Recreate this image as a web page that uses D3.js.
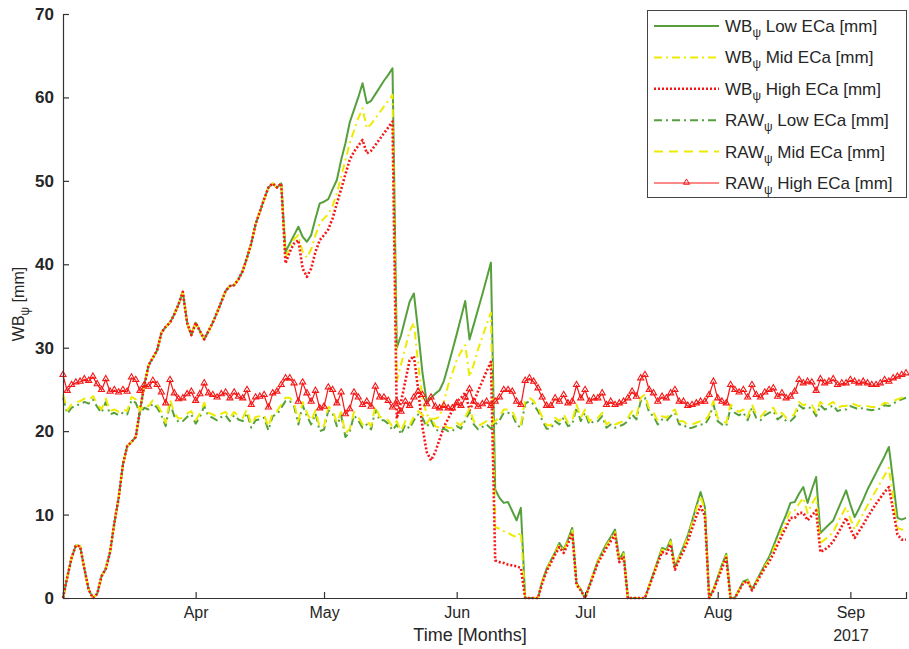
<!DOCTYPE html>
<html><head><meta charset="utf-8">
<script src="https://cdn.jsdelivr.net/npm/d3@7"></script>
<style>
body{margin:0;background:#fff;}
svg text{font-family:"Liberation Sans",Arial,Helvetica,sans-serif;fill:#262626;}
</style></head>
<body><svg id="chart" width="909" height="649"></svg>
<script>
// daily values, 1 Mar 2017 .. 14 Sep 2017
const startDate = '2017-03-01', endDate = '2017-09-14';

const wbLow = [
 0,2.5,4.8,6.3,6.2,3.5,1,0,0.5,2.6, 3.5,5.5,9,12,16,18.2,18.7,19.3,22.5,25.5,
 27.9,28.8,29.7,31.8,32.5,33,34,35.2,36.7,33, 31.5,33,32,31,32,33,34.2,35.5,36.8,37.4,
 37.5,38.2,39.2,40.8,42.5,44.8,46.3,47.8,49.2,49.7, 49.2,49.7,41.5,42.5,43.5,44.5,43.3,42.7,43.5,45.5,
 47.3,47.5,47.8,49,50.1,52.5,54.5,57,58.5,60, 61.7,59.3,59.6,60.4,61.2,62,62.7,63.5,30,31.5,
 33.5,35.5,36.5,32,27,23.5,24,24.5,24.9,26, 27.8,29.7,31.6,33.6,35.6,31,32.8,34.6,36.4,38.3,
 40.2,13,12,11.4,11.5,10.4,9.3,10.8,0,0, 0,0,2,3.5,4.5,5.5,6.6,5.8,7,8.4,
 1.8,1,0,1.5,3,4.5,5.5,6.5,7.3,8.2, 4.6,5.5,0,0,0,0,0,1.5,3,4.5,
 6,5.8,7,3.7,5,6.2,7.5,9.2,11,12.7, 10.9,0,1,2.5,4,5.3,0,0,1,2,
 2.2,1,2,3,4,4.9,6.2,7.5,8.8,10, 11.4,11.5,12.5,13.3,11.4,13,14.5,7.8,8.3,8.8,
 9.3,10.5,11.7,12.9,11.2,9.7,10.7,11.8,13,14, 15,16,17,18.1,14,9.6,9.4,9.6
];
const wbMid = [
 0,2.5,4.8,6.3,6.2,3.5,1,0,0.5,2.6, 3.5,5.5,9,12,16,18.2,18.7,19.3,22.5,25.5,
 27.9,28.8,29.7,31.8,32.5,33,34,35.2,36.7,33, 31.5,33,32,31,32,33,34.2,35.5,36.8,37.4,
 37.5,38.2,39.2,40.8,42.5,44.8,46.3,47.8,49.2,49.7, 49.2,49.7,40.8,42,43,43.5,41.5,40.8,41.8,43.5,
 44.9,45.5,46,47,48.5,50.5,52.5,54.5,56,57.5, 58.7,56.3,56.8,57.5,58.2,58.9,59.6,60.3,26,28,
 30,32,33,28,24,22,21.5,21.5,21.7,23.5, 25.5,27,28.5,29.5,30.3,26.5,28,29.8,31.3,32.8,
 34.2,8.5,8.3,8,7.8,7.5,7.3,7.9,0,0, 0,0,2,3.4,4.4,5.4,6.4,5.7,6.8,8.1,
 1.7,1,0,1.5,3,4.4,5.4,6.3,7.1,7.9, 4.5,5.3,0,0,0,0,0,1.5,3,4.4,
 5.8,5.6,6.8,3.6,4.9,6,7.3,8.9,10.6,12.2, 10.5,0,1,2.4,3.9,5.1,0,0,1,1.9,
 2.1,1,1.9,2.9,3.8,4.6,5.8,7,8.1,9.2, 10.4,10.5,11.3,12,10.2,11.3,12.1,6.6,7,7.4,
 7.9,9,10,10.9,9.5,8.2,9.2,10.1,11.1,12, 12.9,13.8,14.7,15.6,12,8.4,8.2,8.2
];
const wbHigh = [
 0,2.5,4.8,6.3,6.2,3.5,1,0,0.5,2.6, 3.5,5.5,9,12,16,18.2,18.7,19.3,22.5,25.5,
 27.9,28.8,29.7,31.8,32.5,33,34,35.2,36.7,33, 31.5,33,32,31,32,33,34.2,35.5,36.8,37.4,
 37.5,38.2,39.2,40.8,42.5,44.8,46.3,47.8,49.2,49.7, 49.2,49.7,40.1,41.5,42.5,42.9,39.5,38.5,39.5,41.5,
 42.9,43.5,44.2,45.5,47.3,49,50.8,52.5,53.5,54.2, 54.9,53.3,53.6,54.3,55,55.7,56.4,57.1,21.5,23.5,
 26,28.5,29,25,20.5,17.5,16.5,17.5,19,20.5, 21.5,22.5,23.5,24,24.6,22.5,23.5,24.8,26,27.2,
 28.3,4.5,4.3,4.2,4,3.9,3.8,3.6,0,0, 0,0,1.8,3.2,4.2,5.2,6.1,5.4,6.5,7.8,
 1.6,0.9,0,1.4,2.8,4.2,5.1,6,6.8,7.6, 4.3,5,0,0,0,0,0,1.4,2.8,4.2,
 5.5,5.3,6.4,3.4,4.6,5.6,6.8,8.3,9.8,11, 9.8,0,0.9,2.2,3.6,4.8,0,0,0.9,1.8,
 2,0.9,1.8,2.7,3.6,4.3,5.3,6.4,7.5,8.5, 9.6,9.6,10.2,10.2,9.3,9.9,10.5,5.5,5.8,6.2,
 6.8,7.7,8.6,9.6,8.3,7.2,8,8.8,9.7,10.5, 11.3,12,12.7,13.3,10.5,7.6,7,7
];
const rawLow = [
 24.0,22.1,22.8,23.1,23.2,23.5,23.3,23.8,22.9,22.2, 23.5,22.0,22.2,21.9,22.2,22.0,23.7,23.4,22.1,22.8,
 22.6,23.3,22.8,21.9,20.6,23.4,21.8,21.1,21.2,21.7, 22.0,20.9,21.7,23.0,21.8,21.6,21.3,21.7,21.9,21.2,
 21.9,21.4,21.2,22.2,20.4,21.3,21.4,21.6,20.1,21.8, 22.0,22.8,23.6,23.6,23.0,20.8,23.1,21.8,20.8,22.1,
 20.0,20.2,22.5,22.2,20.6,21.9,19.3,19.9,21.9,21.3, 20.4,20.8,20.2,22.6,21.3,21.3,20.9,20.1,20.8,19.6,
 20.8,20.3,21.3,22.0,21.6,20.5,21.3,20.2,20.0,20.3, 20.0,20.0,20.6,20.3,21.3,22.3,20.8,20.2,20.5,20.8,
 20.3,20.8,21.3,22.2,22.2,22.0,20.8,20.4,23.3,23.6, 23.2,22.4,21.3,20.3,20.3,21.2,20.8,21.6,20.6,20.8,
 22.8,21.2,22.2,20.8,21.2,21.2,21.8,20.4,20.8,20.4, 20.6,20.8,21.2,22.0,21.4,23.6,24.0,22.2,21.8,20.8,
 21.4,21.2,21.8,22.2,20.8,20.8,20.3,20.4,20.6,20.8, 20.8,21.6,23.2,21.2,20.8,20.6,22.8,22.2,21.9,22.2,
 21.3,22.8,21.6,21.3,21.9,22.2,22.4,21.4,21.8,21.2, 21.2,21.7,23.1,22.7,22.9,22.7,21.8,23.1,22.6,22.8,
 23.1,22.4,22.6,22.6,23.0,22.8,22.6,22.8,22.6,22.5, 22.6,22.7,23.1,23.0,23.3,23.6,23.8,24.0
];
const rawMid = [
 24.4,22.5,23.2,23.5,23.6,23.9,23.7,24.2,23.3,22.6, 23.9,22.4,22.6,22.3,22.6,22.4,24.1,23.8,22.5,23.2,
 23.0,23.7,23.2,22.3,21.0,23.8,22.2,21.5,21.6,22.1, 22.4,21.3,22.1,23.4,22.2,22.0,21.7,22.1,22.3,21.6,
 22.3,21.8,21.6,22.6,20.8,21.7,21.8,22.0,20.5,22.2, 22.4,23.2,24.0,24.0,23.4,21.2,23.5,22.2,21.2,22.5,
 20.4,20.6,22.9,22.6,21.0,22.3,19.7,20.3,22.3,21.7, 20.8,21.2,20.6,23.0,21.7,21.7,21.3,20.5,21.2,20.0,
 21.2,20.7,21.7,22.4,22.0,20.9,21.7,20.6,20.4,20.7, 20.4,20.4,21.0,20.7,21.7,22.7,21.2,20.6,20.9,21.2,
 20.7,21.2,21.7,22.6,22.6,22.4,21.2,20.8,23.7,24.0, 23.6,22.8,21.7,20.7,20.7,21.6,21.2,22.0,21.0,21.2,
 23.2,21.6,22.6,21.2,21.6,21.6,22.2,20.8,21.2,20.8, 21.0,21.2,21.6,22.4,21.8,24.0,24.4,22.6,22.2,21.2,
 21.8,21.6,22.2,22.6,21.2,21.2,20.7,20.8,21.0,21.2, 21.2,22.0,23.6,21.6,21.2,21.0,23.2,22.6,22.3,22.6,
 21.7,23.2,22.0,21.7,22.3,22.6,22.8,21.8,22.2,21.6, 21.6,22.1,23.5,23.1,23.3,23.1,22.2,23.5,23.0,23.2,
 23.5,22.8,23.0,23.0,23.4,23.2,23.0,23.2,23.0,22.9, 22.9,23.0,23.4,23.3,23.6,23.8,24.0,24.1
];
const rawHigh = [
 26.7,24.8,25.5,25.8,25.9,26.2,26.0,26.5,25.6,24.9, 26.2,24.7,24.9,24.6,24.9,24.7,26.4,26.1,24.8,25.5,
 25.3,26.0,25.5,24.6,23.3,26.1,24.5,23.8,23.9,24.4, 24.7,23.6,24.4,25.7,24.5,24.3,24.0,24.4,24.6,23.9,
 24.6,24.1,23.9,24.9,23.1,24.0,24.1,24.3,22.8,24.5, 24.7,25.5,26.3,26.3,25.7,23.5,25.8,24.5,23.5,24.8,
 22.7,22.9,25.2,24.9,23.3,24.6,22.0,22.6,24.6,24.0, 23.1,23.5,22.9,25.3,24.0,24.0,23.6,22.8,23.5,22.3,
 23.5,23.0,24.0,24.7,24.3,23.2,24.0,22.9,22.7,23.0, 22.7,22.7,23.3,23.0,24.0,25.0,23.5,22.9,23.2,23.5,
 23.0,23.5,24.0,24.9,24.9,24.7,23.5,23.1,26.0,26.3, 25.9,25.1,24.0,23.0,23.0,23.9,23.5,24.3,23.3,23.5,
 25.5,23.9,24.9,23.5,23.9,23.9,24.5,23.1,23.5,23.1, 23.3,23.5,23.9,24.7,24.1,26.3,26.7,24.9,24.5,23.5,
 24.1,23.9,24.5,24.9,23.5,23.5,23.0,23.1,23.3,23.5, 23.5,24.3,25.9,23.9,23.5,23.3,25.5,24.9,24.6,24.9,
 24.0,25.5,24.3,24.0,24.6,24.9,25.1,24.1,24.5,23.9, 24.1,24.7,26.1,25.7,25.9,25.8,24.8,26.2,25.7,25.9,
 26.2,25.5,25.7,25.7,26.1,25.9,25.7,25.9,25.7,25.5, 25.5,25.7,26.1,25.9,26.3,26.5,26.7,26.9
];

const yTicks = [0,10,20,30,40,50,60,70];
const monthTicks = ['2017-04-01','2017-05-01','2017-06-01','2017-07-01','2017-08-01','2017-09-01'];
const monthLabels = ['Apr','May','Jun','Jul','Aug','Sep'];
const legendNames = [['WB','Low ECa [mm]'],['WB','Mid ECa [mm]'],['WB','High ECa [mm]'],
                     ['RAW','Low ECa [mm]'],['RAW','Mid ECa [mm]'],['RAW','High ECa [mm]']];

const GREEN='#55a03c', YELLOW='#ecec00', RED='#f51616';
const series = [
  {v:wbLow,  col:GREEN,  w:2,   dash:null},
  {v:wbMid,  col:YELLOW, w:2,   dash:'8,4,2,4'},
  {v:wbHigh, col:RED,    w:2.6, dash:'2,2'},
  {v:rawLow, col:GREEN,  w:2,   dash:'8,4,2,4'},
  {v:rawMid, col:YELLOW, w:2,   dash:'9,6'},
  {v:rawHigh,col:RED,    w:1.2, dash:null, marker:true},
];

const svg = d3.select('#chart');
const pUTC = d3.utcParse('%Y-%m-%d');
const t0 = pUTC(startDate);
const dayDate = i => d3.utcDay.offset(t0, i);
const x = d3.scaleUtc().domain([t0, pUTC(endDate)]).range([63, 906]);
const y = d3.scaleLinear().domain([0,70]).range([598, 14]);

// lines
const line = d3.line().x((d,i)=>x(dayDate(i))).y(d=>y(d));
const tri = d3.symbol().type(d3.symbolTriangle).size(16);
series.forEach(s=>{
  svg.append('path').attr('d', line(s.v)).attr('fill','none').attr('stroke',s.col)
    .attr('stroke-width',s.w).attr('stroke-dasharray',s.dash).attr('stroke-linejoin','round');
  if(s.marker){
    svg.append('g').selectAll('path').data(s.v).join('path').attr('d',tri)
      .attr('transform',(d,i)=>`translate(${x(dayDate(i))},${y(d)-0.5})`)
      .attr('fill','none').attr('stroke',s.col).attr('stroke-width',1.1);
  }
});

// axes (ticks inside, MATLAB style)
const ax = svg.append('g').attr('transform','translate(0,598)')
  .call(d3.axisBottom(x).tickValues(monthTicks.map(pUTC)).tickSize(-6).tickFormat((d,i)=>monthLabels[i]).tickPadding(9));
const ay = svg.append('g').attr('transform','translate(63,0)')
  .call(d3.axisLeft(y).tickValues(yTicks).tickSize(-6).tickPadding(9));
[ax,ay].forEach(a=>{
  a.select('.domain').attr('stroke','#333').attr('stroke-width',1.2);
  a.selectAll('.tick line').attr('stroke','#333').attr('stroke-width',1.2);
});
ax.selectAll('text').attr('font-size',16).attr('fill','#262626');
ay.selectAll('text').attr('font-size',17).attr('font-weight','bold').attr('fill','#333');

svg.append('text').attr('x',851).attr('y',641).attr('text-anchor','middle').attr('font-size',16).text('2017');
svg.append('text').attr('x',470).attr('y',641).attr('text-anchor','middle').attr('font-size',18).text('Time [Months]');

const yl = svg.append('text').attr('transform','translate(24,304) rotate(-90)').attr('text-anchor','middle').attr('font-size',16);
yl.append('tspan').text('WB');
yl.append('tspan').attr('dy',5).attr('font-size',12).text('ψ');
yl.append('tspan').attr('dy',-5).text(' [mm]');

// legend
const lg = svg.append('g');
lg.append('rect').attr('x',647.5).attr('y',10.5).attr('width',259).attr('height',187)
  .attr('fill','#fff').attr('stroke','#444').attr('stroke-width',1);
series.forEach((s,i)=>{
  const cy = 26 + i*31.4;
  lg.append('line').attr('x1',654).attr('x2',719).attr('y1',cy).attr('y2',cy)
    .attr('stroke',s.col).attr('stroke-width',s.w).attr('stroke-dasharray',s.dash);
  if(s.marker) lg.append('path').attr('d',tri).attr('transform',`translate(686.5,${cy-0.5})`)
    .attr('fill','none').attr('stroke',s.col);
  const t = lg.append('text').attr('x',725).attr('y',cy+6).attr('font-size',17);
  t.append('tspan').text(legendNames[i][0]);
  t.append('tspan').attr('dy',5).attr('font-size',12).text('ψ');
  t.append('tspan').attr('dy',-5).text(' '+legendNames[i][1]);
});
</script></body></html>
